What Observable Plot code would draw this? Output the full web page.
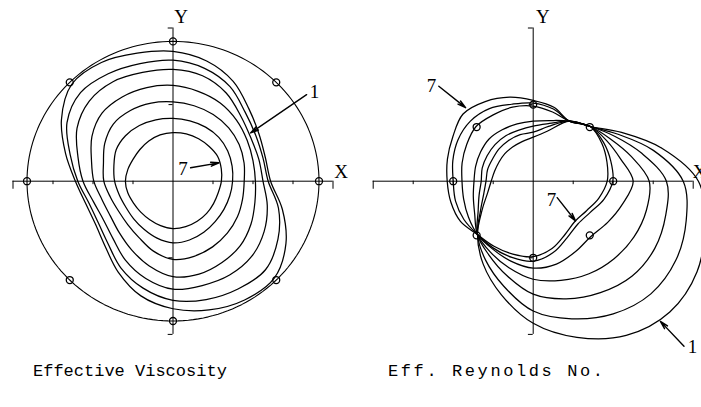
<!DOCTYPE html>
<html>
<head>
<meta charset="utf-8">
<script src="https://cdn.jsdelivr.net/npm/d3@7"></script>
<script src="https://cdn.jsdelivr.net/npm/@observablehq/plot@0.6"></script>
<style>
  html, body { margin: 0; padding: 0; background: #fff; }
  #figure { position: relative; width: 701px; height: 407px; overflow: hidden; background: #fff; }
  .panel { position: absolute; top: 0; }
  .caption { position: absolute; top: 362px; font-family: "Liberation Mono", "DejaVu Sans Mono", monospace; font-size: 17px; line-height: 20px; color: #000; white-space: pre; }
</style>
</head>
<body>
<div id="figure">
  <div class="panel" id="viscosity" style="left:0px"></div>
  <div class="panel" id="reynolds" style="left:350px"></div>
  <div class="caption" style="left:33px">Effective Viscosity</div>
  <div class="caption" style="left:388px; letter-spacing:2.6px">Eff. Reynolds No.</div>
</div>
<script>
// Polar contours, radii in axis-tick units, sampled every 15 degrees.
// Curves are numbered 1 (outermost label) to 7.
const contourAngles = [0, 15, 30, 45, 60, 75, 90, 105, 120, 135, 150, 165, 180, 195, 210, 225, 240, 255, 270, 285, 300, 315, 330, 345];

const viscosity = [
  [2.44, 2.39, 2.48, 2.68, 3.01, 3.25, 3.39, 3.46, 3.58, 3.58, 3.22, 2.78, 2.44, 2.26, 2.24, 2.40, 2.74, 3.10, 3.33, 3.48, 3.58, 3.58, 3.26, 2.83],
  [2.38, 2.33, 2.39, 2.55, 2.85, 3.05, 3.16, 3.18, 3.24, 3.27, 3.06, 2.66, 2.38, 2.18, 2.16, 2.30, 2.61, 2.89, 3.11, 3.20, 3.25, 3.27, 3.03, 2.73],
  [2.25, 2.22, 2.25, 2.40, 2.66, 2.85, 2.92, 2.94, 3.00, 2.96, 2.77, 2.46, 2.25, 2.06, 2.01, 2.12, 2.38, 2.63, 2.82, 2.82, 2.83, 2.78, 2.63, 2.44],
  [2.06, 2.07, 2.14, 2.25, 2.36, 2.43, 2.50, 2.53, 2.54, 2.51, 2.34, 2.11, 1.98, 1.84, 1.81, 1.90, 2.07, 2.29, 2.49, 2.51, 2.45, 2.38, 2.25, 2.12],
  [1.78, 1.84, 1.91, 1.97, 2.01, 2.04, 2.07, 2.11, 2.13, 2.11, 1.97, 1.80, 1.73, 1.62, 1.57, 1.60, 1.70, 1.89, 2.04, 2.03, 1.98, 1.92, 1.86, 1.80],
  [1.49, 1.53, 1.58, 1.62, 1.63, 1.63, 1.64, 1.66, 1.68, 1.68, 1.64, 1.53, 1.46, 1.39, 1.36, 1.39, 1.45, 1.54, 1.61, 1.59, 1.54, 1.49, 1.47, 1.47],
  [1.21, 1.25, 1.29, 1.28, 1.28, 1.28, 1.27, 1.25, 1.21, 1.17, 1.15, 1.17, 1.19, 1.17, 1.14, 1.14, 1.16, 1.20, 1.24, 1.23, 1.21, 1.19, 1.17, 1.17]
];

const reynolds = [
  [4.13, 3.33, 2.55, 2.02, 1.81, 1.35, 1.15, 1.07, 1.03, 1.01, 0.99, 1.00, 1.05, 1.18, 1.47, 1.97, 2.50, 3.07, 3.71, 4.22, 4.65, 4.83, 4.73, 4.44],
  [3.75, 3.11, 2.45, 2.02, 1.81, 1.48, 1.28, 1.26, 1.23, 1.20, 1.17, 1.18, 1.18, 1.28, 1.52, 1.97, 2.38, 2.84, 3.39, 3.72, 4.00, 4.16, 4.12, 3.96],
  [3.33, 2.81, 2.35, 2.02, 1.81, 1.56, 1.44, 1.38, 1.37, 1.35, 1.33, 1.32, 1.30, 1.40, 1.59, 1.97, 2.22, 2.55, 2.95, 3.18, 3.36, 3.50, 3.51, 3.43],
  [2.90, 2.53, 2.22, 2.02, 1.81, 1.64, 1.57, 1.55, 1.55, 1.56, 1.52, 1.49, 1.48, 1.55, 1.69, 1.97, 2.14, 2.34, 2.56, 2.68, 2.79, 2.86, 2.91, 2.93],
  [2.50, 2.26, 2.12, 2.02, 1.81, 1.87, 1.96, 2.00, 2.00, 2.02, 1.92, 1.84, 1.78, 1.80, 1.87, 1.97, 2.04, 2.16, 2.27, 2.24, 2.12, 2.04, 2.15, 2.31],
  [1.99, 2.01, 2.03, 2.02, 1.81, 1.95, 2.04, 2.08, 2.19, 2.22, 2.17, 2.08, 2.00, 2.01, 2.00, 1.97, 2.01, 2.06, 2.09, 1.93, 1.70, 1.58, 1.64, 1.83],
  [1.85, 1.91, 1.98, 2.02, 1.81, 2.00, 2.11, 2.27, 2.40, 2.48, 2.32, 2.22, 2.15, 2.13, 2.10, 1.97, 1.96, 1.97, 1.97, 1.82, 1.60, 1.48, 1.54, 1.70]
];

// Probe stations (angles in degrees) and the radius they sit on in each panel.
const stationAngles = [0, 45, 90, 135, 180, 225, 270, 315];
const viscosityStationRadius = 3.65;
const reynoldsStationRadius = 2.0;

// Axis ticks.
const xTicks = [-3, -2, -1, 1, 2, 3];
const yTicks = [-2, 2];
const axisEnds = [-4, 4];

const rad = Math.PI / 180;

function contourTable(radii) {
  return radii.flatMap((rs, k) =>
    rs.map((r, i) => ({curve: k + 1, x: r * Math.cos(contourAngles[i] * rad), y: r * Math.sin(contourAngles[i] * rad)}))
  );
}

function stationTable(radius) {
  return stationAngles.map(a => ({x: radius * Math.cos(a * rad), y: radius * Math.sin(a * rad)}));
}

function circleTable(radius) {
  return d3.range(0, 361, 2).map(a => ({x: radius * Math.cos(a * rad), y: radius * Math.sin(a * rad)}));
}

const serif = "Liberation Serif, Times New Roman, serif";

function axisMarks() {
  return [
    Plot.ruleY([0], {x1: -4, x2: 4, stroke: "#000", strokeWidth: 1}),
    Plot.ruleX([0], {y1: -4, y2: 4, stroke: "#000", strokeWidth: 1}),
    Plot.ruleX(xTicks, {x: d => d, y1: 0, y2: -0.09, stroke: "#000", strokeWidth: 1}),
    Plot.ruleX(axisEnds, {x: d => d, y1: 0, y2: -0.21, stroke: "#000", strokeWidth: 1}),
    Plot.ruleY(yTicks, {y: d => d, x1: -0.1, x2: 0, stroke: "#000", strokeWidth: 1}),
    Plot.ruleY(axisEnds, {y: d => d, x1: -0.12, x2: 0, stroke: "#000", strokeWidth: 1})
  ];
}

function panel({width, marginLeft, marginRight, marks}) {
  return Plot.plot({
    width,
    height: 360,
    marginLeft,
    marginRight,
    marginTop: 27.5,
    marginBottom: 26.1,
    x: {domain: [-4, 4], axis: null},
    y: {domain: [-4, 4], axis: null},
    style: {background: "transparent", overflow: "visible"},
    marks
  });
}

const arrowStyle = {stroke: "#000", strokeWidth: 1.4, headLength: 9, headAngle: 28};
const labelStyle = {fontFamily: serif, fontSize: 19, fill: "#000"};
const contourStyle = {x: "x", y: "y", z: "curve", curve: "catmull-rom-closed", stroke: "#000", strokeWidth: 1.25};
const stationStyle = {x: "x", y: "y", r: 3.5, stroke: "#000", strokeWidth: 1.3, fill: "none"};

const viscosityPlot = panel({
  width: 350,
  marginLeft: 12.5,
  marginRight: 17.5,
  marks: [
    ...axisMarks(),
    Plot.line(circleTable(viscosityStationRadius), {x: "x", y: "y", stroke: "#000", strokeWidth: 1.1}),
    Plot.line(contourTable(viscosity), contourStyle),
    Plot.dot(stationTable(viscosityStationRadius), stationStyle),
    Plot.text(["Y"], {x: 0.2, y: 4.3, ...labelStyle}),
    Plot.text(["X"], {x: 4.2, y: 0.25, ...labelStyle}),
    Plot.text(["1"], {x: 3.54, y: 2.34, ...labelStyle}),
    Plot.arrow([0], {x1: 3.34, y1: 2.26, x2: 1.94, y2: 1.26, ...arrowStyle}),
    Plot.text(["7"], {x: 0.25, y: 0.33, ...labelStyle}),
    Plot.arrow([0], {x1: 0.44, y1: 0.35, x2: 1.15, y2: 0.48, ...arrowStyle})
  ]
});

const reynoldsPlot = panel({
  width: 351,
  marginLeft: 22.7,
  marginRight: 8.3,
  marks: [
    ...axisMarks(),
    Plot.line(contourTable(reynolds), contourStyle),
    Plot.dot(stationTable(reynoldsStationRadius), stationStyle),
    Plot.text(["Y"], {x: 0.24, y: 4.3, ...labelStyle}),
    Plot.text(["X"], {x: 4.16, y: 0.25, ...labelStyle}),
    Plot.text(["7"], {x: -2.54, y: 2.5, ...labelStyle}),
    Plot.arrow([0], {x1: -2.36, y1: 2.48, x2: -1.69, y2: 1.92, ...arrowStyle}),
    Plot.text(["7"], {x: 0.46, y: -0.48, ...labelStyle}),
    Plot.arrow([0], {x1: 0.6, y1: -0.43, x2: 1.06, y2: -1.04, ...arrowStyle}),
    Plot.text(["1"], {x: 3.98, y: -4.32, ...labelStyle}),
    Plot.arrow([0], {x1: 3.77, y1: -4.31, x2: 3.18, y2: -3.66, ...arrowStyle})
  ]
});

document.getElementById("viscosity").appendChild(viscosityPlot);
document.getElementById("reynolds").appendChild(reynoldsPlot);
</script>
</body>
</html>
